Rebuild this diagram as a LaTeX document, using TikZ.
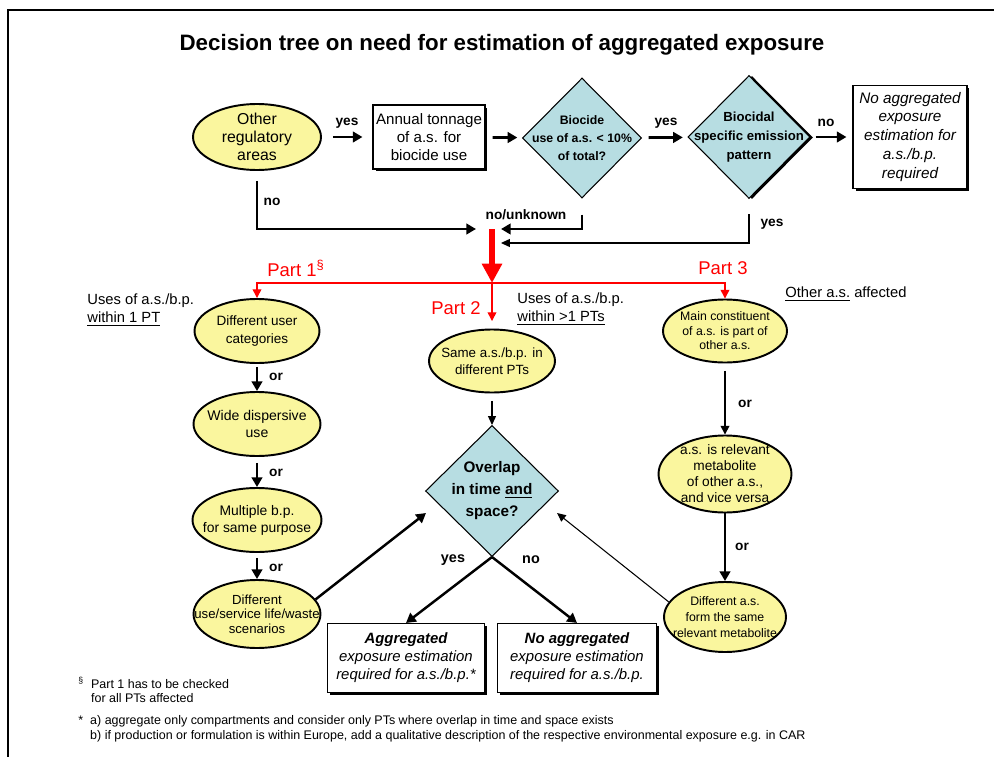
\documentclass[tikz,border=0pt]{standalone}
\usepackage{fontspec}
\setmainfont{Liberation Sans}
\usetikzlibrary{shapes.geometric,arrows.meta,shadows,positioning}
\definecolor{blobyellow}{RGB}{250,246,158}
\definecolor{diamblue}{RGB}{183,221,226}
\definecolor{partred}{RGB}{255,0,0}
\tikzset{
  blob/.style={ellipse, draw, line width=1.1pt, fill=blobyellow, inner sep=0pt},
  quest/.style={diamond, draw, line width=0.6pt, fill=diamblue, inner sep=0pt},
  res/.style={rectangle, draw, line width=0.6pt, fill=white, inner sep=0pt, align=center,
    drop shadow={shadow xshift=0.05cm, shadow yshift=-0.05cm, fill=black, opacity=1}},
  intxt/.style={align=center, inner sep=0pt},
  bigarr/.style={line width=1.6pt, -{Triangle[length=5.5pt,width=6pt]}},
  medarr/.style={line width=0.9pt, -{Triangle[length=5pt,width=5pt]}},
  thinarr/.style={line width=0.6pt, -{Triangle[length=5pt,width=4.5pt]}},
  redarr/.style={partred, line width=0.8pt, -{Triangle[length=5pt,width=5pt]}},
  redbig/.style={partred, line width=3.4pt, -{Triangle[length=11pt,width=11pt]}},
  redtxt/.style={partred, font=\fontsize{10.5}{12}\selectfont, inner sep=0pt},
  lbl/.style={font=\bfseries\fontsize{7.8}{9}\selectfont, inner sep=0pt},
  note/.style={font=\fontsize{8.4}{10}\selectfont, align=left, inner sep=0pt},
  fnote/.style={font=\fontsize{7.1}{8.3}\selectfont, inner sep=0pt},
}
\begin{document}
\begin{tikzpicture}[x=0.02cm, y=-0.02cm]
  \useasboundingbox (0,0) rectangle (994,757);
  \draw[line width=1.2pt] (8,757) -- (8,10) -- (994,10);   % frame
  %
  \node[font=\bfseries\fontsize{12.7}{15}\selectfont] (title) at (502,45)
    {Decision tree on need for estimation of aggregated exposure};
  %% top row
  \node[blob, minimum width=2.56cm, minimum height=1.32cm,
    label={[intxt,font=\fontsize{9}{10.3}\selectfont]center:Other\\regulatory\\areas}] (oth) at (257,137) {};
  \node[res, minimum width=2.24cm, minimum height=1.28cm, font=\fontsize{8.6}{10.4}\selectfont,
    drop shadow={shadow xshift=0.03cm, shadow yshift=-0.03cm, fill=black, opacity=1}] (ton) at (429,137)
    {Annual tonnage\\of a.s. for\\biocide use};
  \node[quest, minimum width=2.38cm, minimum height=2.4cm,
    label={[intxt,font=\bfseries\fontsize{7}{10.3}\selectfont]center:Biocide\\use of a.s. < 10\%\\of total?}] (bio) at (582,138) {};
  \node[quest, minimum width=2.44cm, minimum height=2.46cm,
    drop shadow={shadow xshift=0.06cm, shadow yshift=-0.01cm, fill=black, opacity=1},
    label={[intxt,font=\bfseries\fontsize{7.5}{11}\selectfont]center:Biocidal\\specific emission\\pattern}] (emi) at (749,137) {};
  \node[res, minimum width=2.28cm, minimum height=2.06cm, font=\itshape\fontsize{8.7}{10.8}\selectfont] (noa) at (910,137)
    {No aggregated\\exposure\\estimation for\\a.s./b.p.\\required};
  %
  \draw[bigarr, shorten <=0.22cm, shorten >=0.2cm] (oth) -- (ton);
  \draw[bigarr, shorten <=0.14cm, shorten >=0.1cm] (ton) -- (bio);
  \draw[bigarr, shorten <=0.14cm, shorten >=0.1cm] (bio) -- (emi);
  \draw[bigarr, shorten <=0.1cm, shorten >=0.12cm] (emi) -- (noa);
  \node[lbl] (yes1) at (347,123) {yes};
  \node[lbl] (yes2) at (666,123) {yes};
  \node[lbl] (no1) at (826,123) {no};
  %% merging into the red arrow
  \coordinate (mrg) at (492,229);
  \coordinate (mrg2) at (492,243);
  \coordinate (spl) at (492,283);
  \draw[bigarr, shorten <=0.2cm, shorten >=0.32cm] (oth.south) |- (mrg);
  \draw[bigarr, shorten <=0.32cm, shorten >=0.18cm] (bio.south) |- (mrg);
  \draw[thinarr, shorten <=0.3cm, shorten >=0.18cm] (emi.south) |- (mrg2);
  \node[lbl] (no2) at (272,202) {no};
  \node[lbl] (unk) at (526,215) {no/unknown};
  \node[lbl] (yes3) at (772,224) {yes};
  \draw[redbig] (mrg) -- (spl);
  \node[redtxt] (p1) at (296,268) {Part 1\textsuperscript{\S}};
  \node[redtxt] (p2) at (456,308) {Part 2};
  \node[redtxt] (p3) at (723,268) {Part 3};
  \node[note, anchor=west] (use1) at (87,310) {Uses of a.s./b.p.\\\underline{within 1 PT}};
  \node[note, anchor=west] (use2) at (517,309) {Uses of a.s./b.p.\\\underline{within >1 PTs}};
  \node[note, anchor=west] (oas) at (785,294) {\underline{Other a.s.} affected};
  %% part 1
  \node[blob, minimum width=2.5cm, minimum height=1.28cm,
    label={[intxt,font=\fontsize{7.7}{9.7}\selectfont]center:Different user\\categories}] (usr) at (257,331) {};
  \node[blob, minimum width=2.54cm, minimum height=1.28cm,
    label={[intxt,font=\fontsize{8}{9.7}\selectfont]center:Wide dispersive\\use}] (wid) at (257,424) {};
  \node[blob, minimum width=2.58cm, minimum height=1.28cm,
    label={[intxt,font=\fontsize{7.9}{9.7}\selectfont]center:Multiple b.p.\\for same purpose}] (mul) at (257,520) {};
  \node[blob, minimum width=2.54cm, minimum height=1.36cm,
    label={[intxt,font=\fontsize{7.5}{8.3}\selectfont]center:Different\\use/service life/waste\\scenarios}] (dif) at (257,614) {};
  \draw[bigarr, shorten <=0.06cm] (usr) -- (wid);
  \draw[bigarr, shorten <=0.12cm] (wid) -- (mul);
  \draw[bigarr, shorten <=0.1cm] (mul) -- (dif);
  \node[lbl] (or1) at (276,377) {or};
  \node[lbl] (or2) at (276,473) {or};
  \node[lbl] (or3) at (276,568) {or};
  %% part 2
  \node[blob, minimum width=2.52cm, minimum height=1.26cm,
    label={[intxt,font=\fontsize{7.6}{9.4}\selectfont]center:Same a.s./b.p. in\\different PTs}] (sam) at (492,361) {};
  \node[quest, minimum width=2.66cm, minimum height=2.62cm,
    label={[intxt,font=\bfseries\fontsize{8.7}{12.5}\selectfont]center:Overlap\\in time \underline{and}\\space?}] (ovl) at (492,491) {};
  \draw[thinarr, shorten <=0.15cm] (sam) -- (ovl);
  \coordinate (ovlL) at (426,513);
  \coordinate (ovlR) at (557,513);
  \node[res, minimum width=3.14cm, minimum height=1.38cm, font=\itshape\fontsize{8.5}{10.3}\selectfont] (agg) at (406,658)
    {\textbf{Aggregated}\\exposure estimation\\required for a.s./b.p.*};
  \node[res, minimum width=3.18cm, minimum height=1.38cm, font=\itshape\fontsize{8.5}{10.3}\selectfont] (nag) at (577,658)
    {\textbf{No aggregated}\\exposure estimation\\required for a.s./b.p.};
  \draw[bigarr, line width=1.4pt] (ovl.south) -- (agg.north);
  \draw[bigarr, line width=1.4pt] (ovl.south) -- (nag.north);
  \node[lbl, font=\bfseries\fontsize{8.2}{9}\selectfont] (yes4) at (453,560) {yes};
  \node[lbl, font=\bfseries\fontsize{8.2}{9}\selectfont] (no3) at (531,560) {no};
  \draw[bigarr, line width=1.4pt] (dif.14) -- (ovlL);
  %% part 3
  \node[blob, minimum width=2.48cm, minimum height=1.26cm,
    label={[intxt,font=\fontsize{7}{8.3}\selectfont]center:Main constituent\\of a.s. is part of\\other a.s.}] (mai) at (725,331) {};
  \node[blob, minimum width=2.66cm, minimum height=1.54cm,
    label={[intxt,font=\fontsize{7.8}{9.1}\selectfont]center:a.s. is relevant\\metabolite\\of other a.s.,\\and vice versa}] (rel) at (725,474) {};
  \node[blob, minimum width=2.44cm, minimum height=1.4cm,
    label={[intxt,font=\fontsize{7}{9.1}\selectfont]center:Different a.s.\\form the same\\relevant metabolite}] (ddd) at (725,617) {};
  \draw[medarr, shorten <=0.15cm] (mai) -- (rel);
  \draw[bigarr] (rel) -- (ddd);
  \node[lbl] (or4) at (745,404) {or};
  \node[lbl] (or5) at (742,547) {or};
  \draw[thinarr] (ddd.165) -- (ovlR);
  %% red branches to the three parts
  \draw[redarr] (spl) -| (usr);
  \draw[redarr] (spl) -| (mai);
  \draw[redarr, shorten >=0.15cm] (spl) -- (sam);
  %% footnotes
  \node[fnote, anchor=west] (fn1) at (78,692)
    {\begin{tabular}{@{}l@{\hspace{4pt}}l@{}}\textsuperscript{\S}&Part 1 has to be checked\\&for all PTs affected\end{tabular}};
  \node[fnote, anchor=west] (fn2) at (78,729)
    {\begin{tabular}{@{}l@{\hspace{4pt}}l@{}}*&a) aggregate only compartments and consider only PTs where overlap in time and space exists\\
      &b) if production or formulation is within Europe, add a qualitative description of the respective environmental exposure e.g. in CAR\end{tabular}};
\end{tikzpicture}
\end{document}
